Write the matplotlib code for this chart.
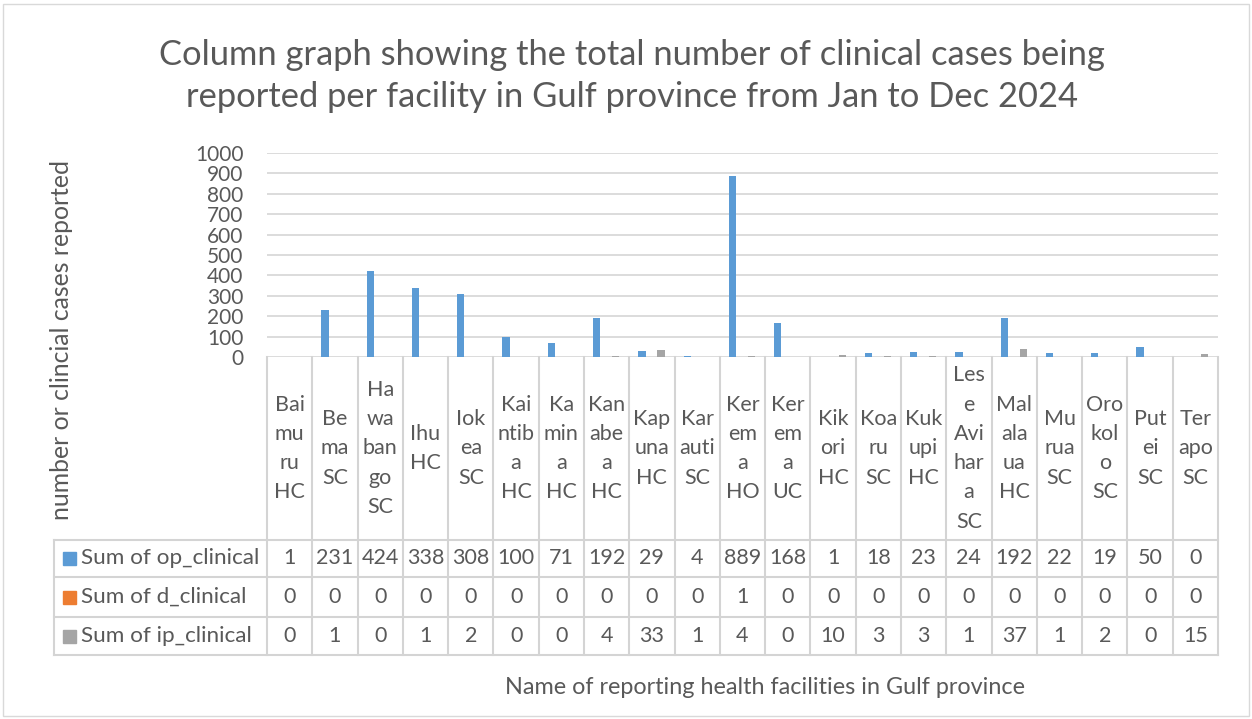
import matplotlib
matplotlib.use('Agg')
import matplotlib.pyplot as plt
from matplotlib.patches import Rectangle

plt.rcParams['font.family'] = ['Lato', 'DejaVu Sans']

# Data
facilities = ['Baimuru HC', 'Bema SC', 'Hawabango SC', 'Ihu HC', 'Iokea SC',
              'Kaintiba HC', 'Kamina HC', 'Kanabea HC', 'Kapuna HC', 'Karauti SC',
              'Kerema HO', 'Kerema UC', 'Kikori HC', 'Koaru SC', 'Kukupi HC',
              'Lese Avihara SC', 'Malalaua HC', 'Murua SC', 'Orokolo SC', 'Putei SC',
              'Terapo SC']
# wrapped labels as they appear in the table header row
facility_labels = ['Bai\nmu\nru\nHC', 'Be\nma\nSC', 'Ha\nwa\nban\ngo\nSC', 'Ihu\nHC',
                   'Iok\nea\nSC', 'Kai\nntib\na\nHC', 'Ka\nmin\na\nHC', 'Kan\nabe\na\nHC',
                   'Kap\nuna\nHC', 'Kar\nauti\nSC', 'Ker\nem\na\nHO', 'Ker\nem\na\nUC',
                   'Kik\nori\nHC', 'Koa\nru\nSC', 'Kuk\nupi\nHC', 'Les\ne\nAvi\nhar\na\nSC',
                   'Mal\nala\nua\nHC', 'Mu\nrua\nSC', 'Oro\nkol\no\nSC', 'Put\nei\nSC',
                   'Ter\napo\nSC']
op_clinical = [1, 231, 424, 338, 308, 100, 71, 192, 29, 4, 889, 168, 1, 18, 23, 24, 192, 22, 19, 50, 0]
d_clinical = [0, 0, 0, 0, 0, 0, 0, 0, 0, 0, 1, 0, 0, 0, 0, 0, 0, 0, 0, 0, 0]
ip_clinical = [0, 1, 0, 1, 2, 0, 0, 4, 33, 1, 4, 0, 10, 3, 3, 1, 37, 1, 2, 0, 15]

series_names = ['Sum of op_clinical', 'Sum of d_clinical', 'Sum of ip_clinical']
series_values = [op_clinical, d_clinical, ip_clinical]
colors = ['#5B9BD5', '#ED7D31', '#A5A5A5']
yticks = list(range(0, 1001, 100))

txt = '#595959'
grid = '#D9D9D9'
W, H = 1252, 719
n = len(facilities)

fig = plt.figure(figsize=(W / 100, H / 100), dpi=100)

# layout in pixels
left, right, top, zero, bottom = 267, 1218, 153, 357, 655
table_left = 54
rows = [357, 540, 577, 617, 655]
colw = (right - left) / n


def fx(x):
    return x / W


def fy(y):
    return 1 - y / H


# Bars
ax = fig.add_axes([fx(left), fy(zero), fx(right - left), (zero - top) / H])
offsets = [-0.22, 0.0, 0.2]
for vals, off, c in zip(series_values, offsets, colors):
    ax.bar([i + off for i in range(n)], vals, width=0.16, color=c, zorder=3)
ax.set_xlim(-0.5, n - 0.5)
ax.set_ylim(0, 1000)
ax.set_yticks(yticks)
ax.set_yticklabels([str(v) for v in yticks], fontsize=15, color=txt)
ax.tick_params(axis='y', length=0, pad=17)
ax.set_xticks([])
ax.grid(axis='y', color=grid, linewidth=1.3, zorder=0)
for s in ax.spines.values():
    s.set_visible(False)

# Data table
tab = fig.add_axes([fx(table_left), fy(bottom), fx(right - table_left), (bottom - zero) / H])
lead = (left - table_left) / colw
tab.set_xlim(-0.5 - lead, n - 0.5)
tab.set_ylim(bottom, zero)
tab.axis('off')
lc = '#D4D4D4'
lw = 1.5
# horizontal lines
for y in rows[1:]:
    tab.plot([-0.5 - lead, n - 0.5], [y, y], color=lc, lw=lw, clip_on=False)
# vertical lines
for i in range(n + 1):
    tab.plot([i - 0.5, i - 0.5], [rows[0], rows[-1]], color=lc, lw=lw, clip_on=False)
tab.plot([-0.5 - lead, -0.5 - lead], [rows[1], rows[-1]], color=lc, lw=lw, clip_on=False)

for i, lab in enumerate(facility_labels):
    tab.text(i, (rows[0] + rows[1]) / 2, lab, ha='center', va='center',
             fontsize=15.5, color=txt, linespacing=1.58)

for r, (name, vals, c) in enumerate(zip(series_names, series_values, colors)):
    yc = (rows[r + 1] + rows[r + 2]) / 2
    x0 = -0.5 - lead
    tab.add_patch(Rectangle((x0 + 9 / colw, yc - 6.5), 13 / colw, 13, color=c, clip_on=False))
    tab.text(x0 + 27 / colw, yc, name, ha='left', va='center', fontsize=16.2, color=txt)
    for i, v in enumerate(vals):
        tab.text(i, yc, str(v), ha='center', va='center', fontsize=15.5, color=txt)

# Titles and axis labels
fig.text(fx(632), fy(76), 'Column graph showing the total number of clinical cases being\n'
         'reported per facility in Gulf province from Jan to Dec 2024',
         ha='center', va='center', fontsize=24.8, color=txt, linespacing=1.38)
fig.text(fx(62), fy(340), 'number or clincial cases reported', rotation=90,
         ha='center', va='center', fontsize=17.8, color=txt)
fig.text(fx(765), fy(688), 'Name of reporting health facilities in Gulf province',
         ha='center', va='center', fontsize=16.8, color=txt)

# chart border
fig.add_artist(Rectangle((fx(3), fy(716)), fx(1246), (716 - 4) / H, fill=False,
                         edgecolor='#D9D9D9', lw=1, transform=fig.transFigure))

fig.savefig('out.png', dpi=100, facecolor='white')
